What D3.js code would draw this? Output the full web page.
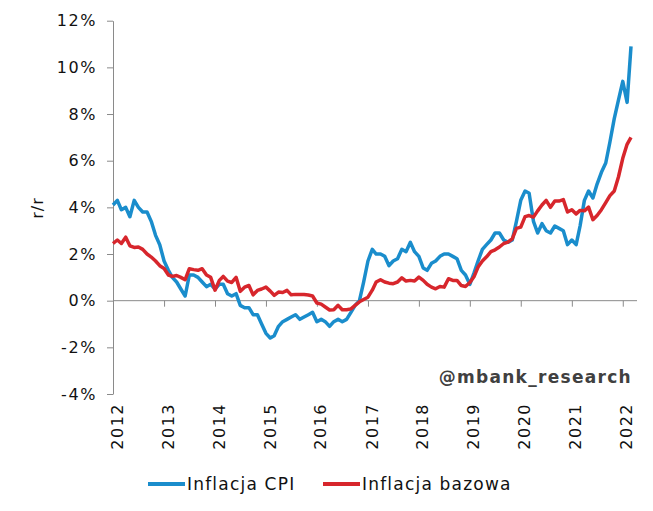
<!DOCTYPE html>
<html>
<head>
<meta charset="utf-8">
<script src="https://cdn.jsdelivr.net/npm/d3@7"></script>
<style>
  html, body { margin: 0; padding: 0; background: #ffffff; }
  svg { display: block; }
</style>
</head>
<body>
<svg id="chart" width="653" height="511"></svg>
<script>
// ---- Data (monthly, Jan 2012 – Mar 2022, % y/y) ----
const startYear = 2012;
const startMonth = 0; // January
const cpi = [
  4.1, 4.3, 3.9, 4.0, 3.6, 4.3, 4.0, 3.8, 3.8, 3.4, 2.8, 2.4,
  1.7, 1.3, 1.0, 0.8, 0.5, 0.2, 1.1, 1.1, 1.0, 0.8, 0.6, 0.7,
  0.5, 0.7, 0.7, 0.3, 0.2, 0.3, -0.2, -0.3, -0.3, -0.6, -0.6, -1.0,
  -1.4, -1.6, -1.5, -1.1, -0.9, -0.8, -0.7, -0.6, -0.8, -0.7, -0.6, -0.5,
  -0.9, -0.8, -0.9, -1.1, -0.9, -0.8, -0.9, -0.8, -0.5, -0.2, 0.0, 0.8,
  1.7, 2.2, 2.0, 2.0, 1.9, 1.5, 1.7, 1.8, 2.2, 2.1, 2.5, 2.1,
  1.9, 1.4, 1.3, 1.6, 1.7, 1.9, 2.0, 2.0, 1.9, 1.8, 1.3, 1.1,
  0.7, 1.2, 1.7, 2.2, 2.4, 2.6, 2.9, 2.9, 2.6, 2.5, 2.6, 3.4,
  4.3, 4.7, 4.6, 3.4, 2.9, 3.3, 3.0, 2.9, 3.2, 3.1, 3.0, 2.4,
  2.6, 2.4, 3.2, 4.3, 4.7, 4.4, 5.0, 5.5, 5.9, 6.8, 7.8, 8.6,
  9.4, 8.5, 10.9
];
const core = [
  2.45, 2.6, 2.45, 2.72, 2.35, 2.28, 2.3, 2.2, 2.0, 1.87, 1.7, 1.5,
  1.38, 1.1, 1.04, 1.08, 1.0, 0.9, 1.37, 1.33, 1.3, 1.37, 1.1, 1.0,
  0.45, 0.87, 1.04, 0.84, 0.78, 1.0, 0.4, 0.58, 0.65, 0.25, 0.44, 0.5,
  0.58, 0.41, 0.23, 0.37, 0.35, 0.44, 0.25, 0.27, 0.27, 0.26, 0.24, 0.2,
  -0.1, -0.15, -0.27, -0.4, -0.39, -0.2, -0.39, -0.39, -0.35, -0.2, -0.05, 0.05,
  0.15, 0.45, 0.8, 0.9, 0.8, 0.75, 0.73, 0.8, 0.98, 0.84, 0.87, 0.84,
  1.01, 0.87, 0.7, 0.58, 0.51, 0.61, 0.58, 0.94, 0.87, 0.87, 0.65, 0.61,
  0.78, 1.04, 1.44, 1.7, 1.88, 2.1, 2.18, 2.3, 2.45, 2.51, 2.65, 3.1,
  3.15, 3.6, 3.65, 3.58, 3.85, 4.1, 4.3, 4.0, 4.27, 4.27, 4.33, 3.8,
  3.9, 3.72, 3.87, 3.85, 4.01, 3.47, 3.65, 3.9, 4.2, 4.5, 4.7, 5.3,
  6.1, 6.7, 7.0
];
const yTicks = [-4, -2, 0, 2, 4, 6, 8, 10, 12];
const yearTicks = [2012, 2013, 2014, 2015, 2016, 2017, 2018, 2019, 2020, 2021, 2022];
const seriesNames = ["Inflacja CPI", "Inflacja bazowa"];
const seriesColors = ["#1a8dcc", "#d7262c"];
const yLabel = "r/r";
const watermark = "@mbank_research";

// ---- Build ----
const dates = cpi.map((_, i) => new Date(startYear, startMonth + i, 1));
const svg = d3.select("#chart");
const font = "Verdana, 'DejaVu Sans', sans-serif";
const axisColor = "#8a8a8a";

const x = d3.scaleTime()
  .domain([dates[0], dates[dates.length - 1]])
  .range([113, 631]);
const y = d3.scaleLinear().domain([-4, 12]).range([394, 20.7]);

// Y axis
const yAxis = d3.axisLeft(y)
  .tickValues(yTicks)
  .tickFormat(d => d + "%")
  .tickSize(6)
  .tickSizeOuter(0)
  .tickPadding(10);
const gy = svg.append("g").attr("transform", "translate(113,0)").call(yAxis);
gy.select(".domain").attr("stroke", axisColor);
gy.selectAll(".tick line").attr("stroke", axisColor);
gy.selectAll(".tick text")
  .attr("font-family", font).attr("font-size", 16).attr("fill", "#111")
  .attr("letter-spacing", "1.6px");

// X axis at zero
const xAxis = d3.axisBottom(x)
  .tickValues(yearTicks.map(yr => new Date(yr, 0, 1)))
  .tickFormat("")
  .tickSize(6)
  .tickSizeOuter(0);
const gx = svg.append("g").attr("transform", `translate(0,${y(0)})`).call(xAxis);
gx.select(".domain").attr("stroke", axisColor).attr("d", `M113,0H637`);
gx.selectAll(".tick line").attr("stroke", axisColor);

// Year labels (rotated)
svg.append("g").selectAll("text")
  .data(yearTicks)
  .join("text")
  .attr("transform", d => `translate(${x(new Date(d, 0, 1)) + 4},403) rotate(-90)`)
  .attr("text-anchor", "end")
  .attr("dy", "0.35em")
  .attr("font-family", font)
  .attr("font-size", 16)
  .attr("letter-spacing", "1.5px")
  .attr("fill", "#111")
  .text(d => d);

// Y label
svg.append("text")
  .attr("transform", "translate(37,208) rotate(-90)")
  .attr("text-anchor", "middle")
  .attr("dy", "0.35em")
  .attr("font-family", font)
  .attr("font-size", 16)
  .attr("letter-spacing", "1px")
  .attr("fill", "#111")
  .text(yLabel);

// Lines
const line = d3.line()
  .x((d, i) => x(dates[i]))
  .y(d => y(d));
[cpi, core].forEach((s, k) => {
  svg.append("path")
    .datum(s)
    .attr("d", line)
    .attr("fill", "none")
    .attr("stroke", seriesColors[k])
    .attr("stroke-width", 3.5)
    .attr("stroke-linejoin", "round")
    .attr("stroke-linecap", "butt");
});

// Watermark
svg.append("text")
  .attr("x", 632).attr("y", 383)
  .attr("text-anchor", "end")
  .attr("font-family", font)
  .attr("font-size", 17)
  .attr("font-weight", "bold")
  .attr("letter-spacing", "1.3px")
  .attr("fill", "#404040")
  .text(watermark);

// Legend
const legendItems = [
  { name: seriesNames[0], color: seriesColors[0], x0: 148 },
  { name: seriesNames[1], color: seriesColors[1], x0: 323 }
];
const lg = svg.append("g");
legendItems.forEach(it => {
  lg.append("line")
    .attr("x1", it.x0).attr("x2", it.x0 + 37)
    .attr("y1", 484).attr("y2", 484)
    .attr("stroke", it.color).attr("stroke-width", 4);
  lg.append("text")
    .attr("x", it.x0 + 39).attr("y", 484)
    .attr("dy", "0.35em")
    .attr("font-family", font)
    .attr("font-size", 17)
    .attr("letter-spacing", "1.2px")
    .attr("fill", "#111")
    .text(it.name);
});
</script>
</body>
</html>
